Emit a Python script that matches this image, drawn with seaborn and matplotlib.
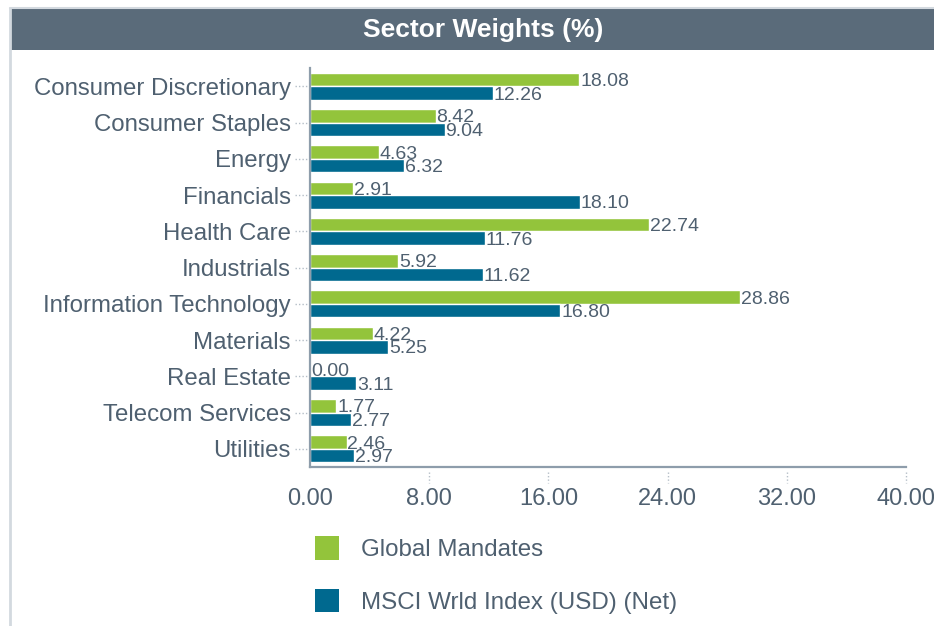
import numpy as np
import pandas as pd
import matplotlib
matplotlib.use("Agg")
import matplotlib.pyplot as plt
import matplotlib.transforms as mtransforms
from matplotlib.patches import Rectangle
from matplotlib.lines import Line2D
import seaborn as sns

# data
sectors = ["Consumer Discretionary", "Consumer Staples", "Energy", "Financials",
           "Health Care", "Industrials", "Information Technology", "Materials",
           "Real Estate", "Telecom Services", "Utilities"]
global_mandates = [18.08, 8.42, 4.63, 2.91, 22.74, 5.92, 28.86, 4.22, 0.00, 1.77, 2.46]
msci_world = [12.26, 9.04, 6.32, 18.10, 11.76, 11.62, 16.80, 5.25, 3.11, 2.77, 2.97]
series_names = ["Global Mandates", "MSCI Wrld Index (USD) (Net)"]
x_ticks = [0, 8, 16, 24, 32, 40]

GREEN = "#93c43b"
BLUE = "#00698f"
TEXT = "#4f6070"
HEADER = "#5a6b7a"
AXIS = "#8e9dab"

sns.set_theme(style="white")
plt.rcParams["font.family"] = ["Liberation Sans", "DejaVu Sans"]

df = pd.DataFrame({
    "Sector": sectors * 2,
    "Weight": global_mandates + msci_world,
    "Series": [series_names[0]] * len(sectors) + [series_names[1]] * len(sectors),
})

fig = plt.figure(figsize=(9.34, 6.26), dpi=100)
ax = fig.add_axes([0.332, 0.254, 0.638, 0.637])

sns.barplot(data=df, x="Weight", y="Sector", hue="Series", orient="h",
            palette=[GREEN, BLUE], width=0.74, saturation=1, ax=ax,
            legend=False)

ax.set_xlim(0, 40)
ax.set_xticks(x_ticks)
ax.set_xticklabels([f"{v:.2f}" for v in x_ticks])
ax.set_xlabel("")
ax.set_ylabel("")

# value labels next to each bar (they overlap a little, as in the original)
for cont in ax.containers:
    for p in cont.patches:
        w = p.get_width()
        yc = p.get_y() + p.get_height() / 2
        ax.annotate(f"{w:.2f}", (w, yc), xytext=(0.5, -1.5), textcoords="offset points",
                    ha="left", va="center", fontsize=14, color=TEXT)

for s in ["top", "right"]:
    ax.spines[s].set_visible(False)
for s in ["left", "bottom"]:
    ax.spines[s].set_color(AXIS)
    ax.spines[s].set_linewidth(1.6)

ax.tick_params(axis="y", length=0, pad=14, labelsize=17.3, labelcolor=TEXT)
ax.tick_params(axis="x", length=0, pad=15, labelsize=17, labelcolor=TEXT)

# dotted tick marks
ytr = mtransforms.blended_transform_factory(ax.transAxes, ax.transData)
for i in range(len(sectors)):
    ax.add_line(Line2D([-0.025, -0.003], [i, i], transform=ytr, color="#b5bec7",
                       linestyle=(0, (1, 1.5)), linewidth=1, clip_on=False))
xtr = mtransforms.blended_transform_factory(ax.transData, ax.transAxes)
for v in x_ticks[1:]:
    ax.add_line(Line2D([v, v], [-0.012, -0.04], transform=xtr, color="#b5bec7",
                       linestyle=(0, (1, 1.5)), linewidth=1, clip_on=False))

# header band and frame
fig.patches.append(Rectangle((10 / 934, 1 - 50 / 626), 1, 42 / 626, transform=fig.transFigure,
                             facecolor=HEADER, edgecolor="none", zorder=0))
fig.add_artist(Line2D([10 / 934, 10 / 934], [0, 1 - 8 / 626], transform=fig.transFigure,
                      color="#d3d9df", linewidth=2))
fig.add_artist(Line2D([10 / 934, 1], [1 - 8 / 626, 1 - 8 / 626], transform=fig.transFigure,
                      color="#d3d9df", linewidth=1.5))
fig.text(0.517, 1 - 30 / 626, "Sector Weights (%)", ha="center", va="center",
         color="white", fontsize=19, fontweight="bold")

# legend
handles = [Rectangle((0, 0), 1, 1, facecolor=c, edgecolor="none") for c in [GREEN, BLUE]]
fig.legend(handles, series_names, loc="upper left", bbox_to_anchor=(315 / 934, 1 - 536 / 626),
           frameon=False, fontsize=17.4, labelcolor=TEXT, handlelength=0.98,
           handleheight=1.12, handletextpad=0.92, labelspacing=1.15, borderaxespad=0,
           borderpad=0)

fig.savefig("out.png", dpi=100)
